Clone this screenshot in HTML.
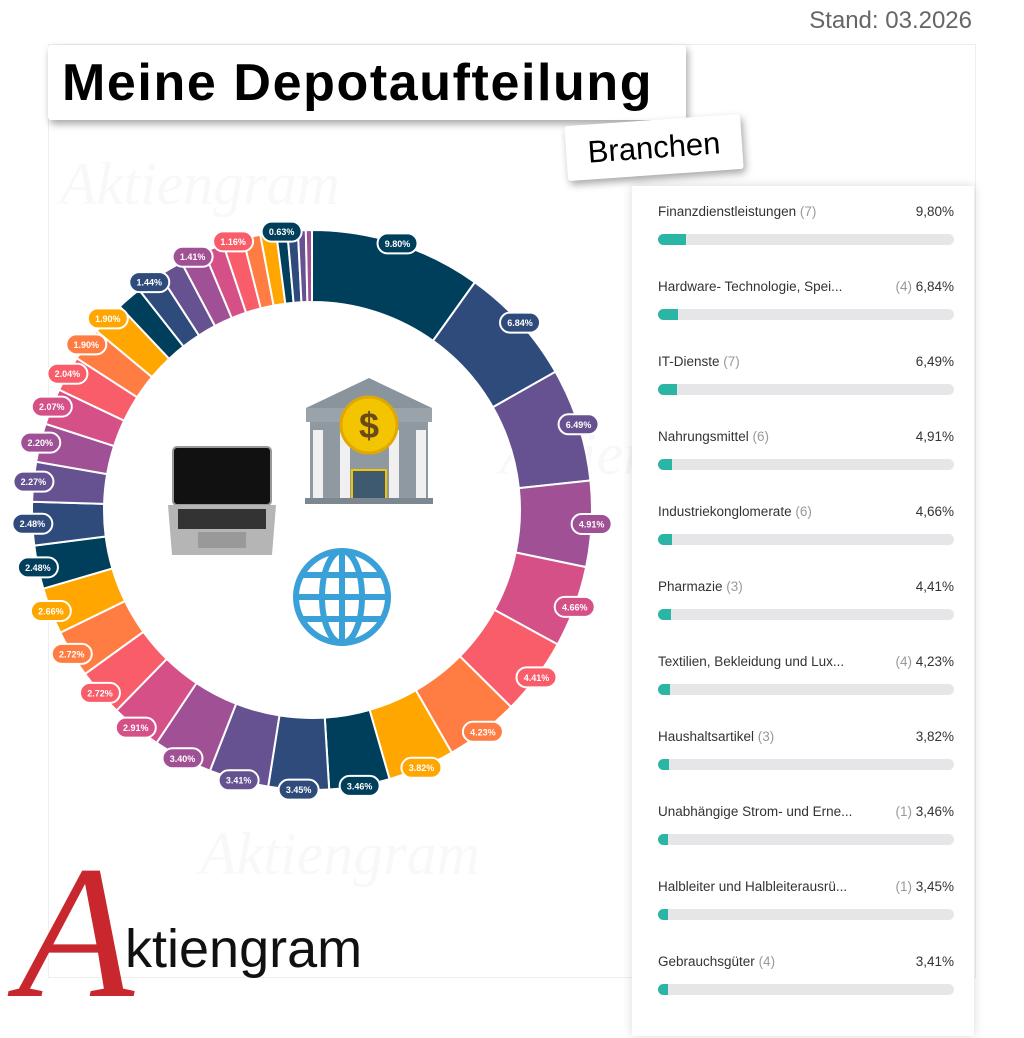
<!DOCTYPE html>
<html><head><meta charset="utf-8"><style>
body{margin:0;width:1024px;height:1024px;background:#fff;position:relative;overflow:hidden;font-family:"Liberation Sans",sans-serif}
.abs{position:absolute}
.wm{position:absolute;font-family:"Liberation Serif",serif;font-style:italic;color:#f8f8f8;font-size:60px}
</style></head><body>
<div class="abs" style="left:48px;top:44px;width:926px;height:932px;border:1px solid #eee;"></div>
<div class="wm" style="left:60px;top:150px">Aktiengram</div>
<div class="wm" style="left:500px;top:420px">Aktiengram</div>
<div class="wm" style="left:200px;top:820px">Aktiengram</div>
<div class="abs" style="right:52px;top:7px;font-size:24px;color:#666">Stand: 03.2026</div>
<div class="abs" style="left:48px;top:45px;width:638px;height:75px;background:#fff;box-shadow:2px 4px 8px rgba(0,0,0,.35);border-radius:3px"></div>
<div class="abs" style="left:62px;top:53px;font-size:52px;font-weight:bold;color:#000;letter-spacing:1.6px;white-space:nowrap">Meine Depotaufteilung</div>
<div class="abs" style="left:566px;top:120px;width:176px;height:55px;background:#fff;box-shadow:2px 4px 8px rgba(0,0,0,.35);transform:rotate(-4deg);border-radius:3px;font-size:31px;color:#000;text-align:center;line-height:55px">Branchen</div>

<div class="abs" style="left:632px;top:186px;width:342px;height:850px;background:#fff;box-shadow:0 0 10px rgba(0,0,0,.15)"></div>
<div id="leg"></div>

<svg class="abs" style="left:0;top:0" width="1024" height="1024" id="sv"></svg>

<div class="abs" style="left:18px;top:838px;font-family:'Liberation Serif',serif;font-style:italic;font-size:190px;color:#c8282d;line-height:1">A</div>
<div class="abs" style="left:125px;top:918px;font-size:54px;color:#111">ktiengram</div>

<script>
const vals=[9.80,6.84,6.49,4.91,4.66,4.41,4.23,3.82,3.46,3.45,3.41,3.40,2.91,2.72,2.72,2.66,2.48,2.48,2.27,2.20,2.07,2.04,1.90,1.90,1.44,1.44,1.41,1.41,1.16,1.16,1.0,0.9,0.63,0.6,0.45,0.35];
const pal=["#003f5c","#2f4b7c","#665191","#a05195","#d45087","#f95d6a","#ff7c43","#ffa600"];
const tot=vals.reduce((a,b)=>a+b,0);
const cx=312,cy=510,R=280,r=208;
let s="",lab="",a=0;
function pt(rad,ang){return [cx+rad*Math.sin(ang),cy-rad*Math.cos(ang)];}
const labelIdx=new Set([...Array(24).keys(),25,27,29,32]);
vals.forEach((v,i)=>{
 const a0=a/tot*2*Math.PI; a+=v; const a1=a/tot*2*Math.PI;
 const p1=pt(R,a0),p2=pt(R,a1),p3=pt(r,a1),p4=pt(r,a0);
 s+=`<path d="M${p1}A${R},${R} 0 0 1 ${p2}L${p3}A${r},${r} 0 0 0 ${p4}Z" fill="${pal[i%8]}" stroke="#fff" stroke-width="2"/>`;
 if(labelIdx.has(i)){
  const m=(a0+a1)/2,[x,y]=pt(R,m);
  const t=v.toFixed(2)+"%";
  lab+=`<rect x="${x-20}" y="${y-10}" width="40" height="20" rx="10" fill="${pal[i%8]}" stroke="#fff" stroke-width="2"/><text x="${x}" y="${y+3.5}" font-size="9" font-weight="bold" fill="#fff" text-anchor="middle" font-family="Liberation Sans">${t}</text>`;
 }
});
let ic=`
<rect x="173" y="447" width="98" height="58" rx="4" fill="#111" stroke="#999" stroke-width="2"/>
<path d="M168 505H276L272 555H172Z" fill="#b5b5b5"/>
<rect x="178" y="509" width="88" height="20" fill="#333"/>
<rect x="198" y="532" width="48" height="16" fill="#999"/>
<path d="M306 408L369 378L432 408Z" fill="#8a949c"/>
<rect x="306" y="408" width="126" height="14" fill="#9aa3aa"/>
<rect x="310" y="422" width="118" height="76" fill="#8f99a1"/>
<rect x="313" y="430" width="10" height="68" fill="#f0f0f0"/><rect x="340" y="430" width="10" height="68" fill="#f0f0f0"/>
<rect x="389" y="430" width="10" height="68" fill="#f0f0f0"/><rect x="416" y="430" width="10" height="68" fill="#f0f0f0"/>
<rect x="352" y="470" width="34" height="32" fill="#3d5a70" stroke="#f4c400" stroke-width="2"/>
<rect x="305" y="498" width="128" height="6" fill="#7d878f"/>
<circle cx="369" cy="425" r="28" fill="#f2c500" stroke="#e0a800" stroke-width="3"/>
<text x="369" y="438" font-size="36" font-weight="bold" fill="#6b4a1a" text-anchor="middle" font-family="Liberation Sans">$</text>
<g fill="none" stroke="#3aa0d8" stroke-width="6">
<circle cx="342" cy="597" r="46"/><ellipse cx="342" cy="597" rx="20" ry="46"/>
<line x1="342" y1="551" x2="342" y2="643"/><line x1="296" y1="597" x2="388" y2="597"/>
<line x1="303" y1="575" x2="381" y2="575"/><line x1="303" y1="619" x2="381" y2="619"/></g>`;
document.getElementById("sv").innerHTML=s+lab+ic;
const items=[["Finanzdienstleistungen","(7)","9,80",9.80],["Hardware- Technologie, Spei...","(4)","6,84",6.84],["IT-Dienste","(7)","6,49",6.49],["Nahrungsmittel","(6)","4,91",4.91],["Industriekonglomerate","(6)","4,66",4.66],["Pharmazie","(3)","4,41",4.41],["Textilien, Bekleidung und Lux...","(4)","4,23",4.23],["Haushaltsartikel","(3)","3,82",3.82],["Unabhängige Strom- und Erne...","(1)","3,46",3.46],["Halbleiter und Halbleiterausrü...","(1)","3,45",3.45],["Gebrauchsgüter","(4)","3,41",3.41]];
let h="";
items.forEach((it,i)=>{
 const y=204+75*i; const trunc=it[0].endsWith("...");
 h+=`<div class="abs" style="left:658px;top:${y}px;font-size:13.5px;color:#333;white-space:nowrap">${it[0]}${trunc?"":" <span style='color:#999'>"+it[1]+"</span>"}</div>`;
 h+=`<div class="abs" style="left:658px;width:296px;top:${y}px;font-size:13.5px;color:#333;text-align:right">${trunc?"<span style='color:#999'>"+it[1]+"</span> ":""}${it[2]}%</div>`;
 h+=`<div class="abs" style="left:658px;top:${y+30}px;width:296px;height:11px;border-radius:6px;background:#e6e6e8"></div>`;
 h+=`<div class="abs" style="left:658px;top:${y+30}px;width:${Math.max(8,it[3]*2.9)}px;height:11px;border-radius:6px 0 0 6px;background:#2bb5a5"></div>`;
});
document.getElementById("leg").innerHTML=h;
</script>
</body></html>
